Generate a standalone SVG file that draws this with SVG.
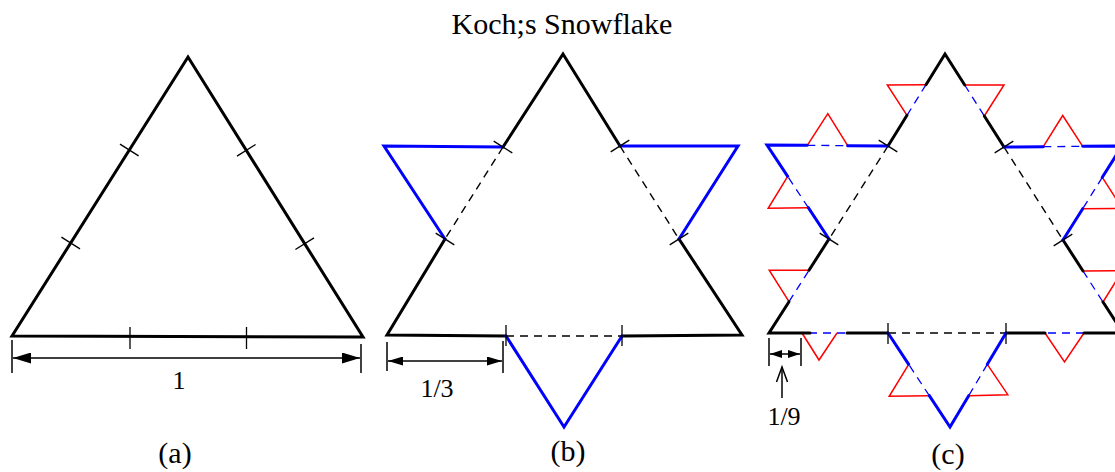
<svg xmlns="http://www.w3.org/2000/svg" width="1115" height="472" viewBox="0 0 1115 472">
<style>
.k{stroke:#000;stroke-width:3;fill:none;stroke-linejoin:miter;stroke-linecap:round}
.b{stroke:#0000ff;stroke-width:3;fill:none;stroke-linejoin:miter;stroke-linecap:round}
.d{stroke:#000;stroke-width:1.4;stroke-dasharray:8 6;fill:none}
.bd{stroke:#0000ff;stroke-width:1.3;stroke-dasharray:8 6;fill:none}
.r{stroke:#ff0000;stroke-width:1.5;fill:none;stroke-linejoin:miter}
.t{stroke:#000;stroke-width:1.3;fill:none}
.dim{stroke:#000;stroke-width:1.5;fill:none}
.lbl{font-family:"Liberation Serif","Times New Roman",serif;fill:#000;text-anchor:middle}
</style>
<defs>
<marker id="ahA" markerUnits="userSpaceOnUse" viewBox="0 0 18 11" refX="18" refY="5.5" markerWidth="18" markerHeight="11" orient="auto-start-reverse"><path d="M0,0 L18,5.5 L0,11 z" fill="#000"/></marker>
<marker id="ahB" markerUnits="userSpaceOnUse" viewBox="0 0 15 9" refX="15" refY="4.5" markerWidth="15" markerHeight="9" orient="auto-start-reverse"><path d="M0,0 L15,4.5 L0,9 z" fill="#000"/></marker>
<marker id="ahC" markerUnits="userSpaceOnUse" viewBox="0 0 12 8" refX="12" refY="4" markerWidth="12" markerHeight="8" orient="auto-start-reverse"><path d="M0,0 L12,4 L0,8 z" fill="#000"/></marker>
</defs>
<rect width="1115" height="472" fill="#fff"/>
<text id="title" class="lbl" x="562" y="34" font-size="30">Koch;s Snowflake</text>

<g id="panel-a">
<path class="k" d="M12,336 L363,337 L188,57 Z"/>
<g id="ticks-a">
<line class="t" x1="120" y1="144.1" x2="138.6" y2="155.9"/>
<line class="t" x1="61.4" y1="237.1" x2="80" y2="248.9"/>
<line class="t" x1="237" y1="156.1" x2="255.6" y2="144.5"/>
<line class="t" x1="295.4" y1="249.5" x2="314" y2="237.9"/>
<line class="t" x1="130" y1="327" x2="130" y2="349"/>
<line class="t" x1="246.5" y1="327" x2="246.5" y2="349"/>
</g>
<g id="dim-a">
<line class="dim" x1="12" y1="340" x2="12" y2="373"/>
<line class="dim" x1="361" y1="344" x2="361" y2="373"/>
<line class="dim" x1="13" y1="358" x2="360" y2="358" marker-start="url(#ahA)" marker-end="url(#ahA)"/>
</g>
<text class="lbl" x="179" y="389" font-size="26">1</text>
<text class="lbl" x="175" y="463" font-size="30">(a)</text>
</g>

<g id="panel-b">
<path class="k" d="M506,336 L387,335 L445,239"/>
<path class="k" d="M503,147 L563,54 L620,146"/>
<path class="k" d="M679,239 L742,335 L622,336"/>
<path class="b" d="M503,147 L384,146 L445,239"/>
<path class="b" d="M620,146 L738,146 L679,239"/>
<path class="b" d="M506,336 L564,427 L622,336"/>
<line class="d" x1="503" y1="147" x2="445" y2="239"/>
<line class="d" x1="620" y1="146" x2="679" y2="239"/>
<line class="d" x1="506" y1="336" x2="622" y2="336"/>
<g id="ticks-b">
<line class="t" x1="493.7" y1="141.1" x2="512.3" y2="152.9"/>
<line class="t" x1="435.7" y1="233.1" x2="454.3" y2="244.9"/>
<line class="t" x1="610.7" y1="151.9" x2="629.3" y2="140.1"/>
<line class="t" x1="669.7" y1="244.9" x2="688.3" y2="233.1"/>
<line class="t" x1="506" y1="325" x2="506" y2="346"/>
<line class="t" x1="622" y1="325" x2="622" y2="346"/>
</g>
<g id="dim-b">
<line class="dim" x1="387" y1="342" x2="387" y2="371"/>
<line class="dim" x1="503" y1="341" x2="503" y2="373"/>
<line class="dim" x1="388" y1="361" x2="502" y2="361" marker-start="url(#ahB)" marker-end="url(#ahB)"/>
</g>
<text class="lbl" x="437" y="397" font-size="26">1/3</text>
<text class="lbl" x="568" y="461" font-size="30">(b)</text>
</g>

<g id="panel-c">
<g id="dashed-c">
<line class="d" x1="888" y1="146" x2="829" y2="239"/>
<line class="d" x1="1004" y1="147" x2="1063" y2="240"/>
<line class="d" x1="888" y1="333" x2="1006" y2="333"/>
</g>
<g id="mid-c">
<line class="bd" x1="789" y1="301.7" x2="809" y2="270.3"/>
<line class="bd" x1="808.3" y1="207.7" x2="787.7" y2="176.3"/>
<line class="bd" x1="807.3" y1="145.3" x2="847.7" y2="145.7"/>
<line class="bd" x1="907" y1="115.3" x2="926" y2="84.7"/>
<line class="bd" x1="964.7" y1="85" x2="984.3" y2="116"/>
<line class="bd" x1="1043.3" y1="146.7" x2="1082.7" y2="146.3"/>
<line class="bd" x1="1102.3" y1="177.3" x2="1082.7" y2="208.7"/>
<line class="bd" x1="1083" y1="271" x2="1103" y2="302"/>
<line class="bd" x1="1084" y1="333" x2="1045" y2="333"/>
<line class="bd" x1="987.3" y1="364.3" x2="968.7" y2="395.7"/>
<line class="bd" x1="929.3" y1="395.7" x2="908.7" y2="364.3"/>
<line class="bd" x1="845" y1="333" x2="810" y2="333"/>
</g>
<g id="red-c">
<path class="r" d="M789,301.7 L769.2,270.2 L809,270.3"/>
<path class="r" d="M808.3,207.7 L768.2,208.3 L787.7,176.3"/>
<path class="r" d="M807.3,145.3 L827.8,113.7 L847.7,145.7"/>
<path class="r" d="M907,115.3 L887.3,85 L926,84.7"/>
<path class="r" d="M964.7,85 L1004,85 L984.3,116"/>
<path class="r" d="M1043.3,146.7 L1062.7,115.5 L1082.7,146.3"/>
<path class="r" d="M1102.3,177.3 L1122.3,208.5 L1082.7,208.7"/>
<path class="r" d="M1083,271 L1122.5,270.7 L1103,302"/>
<path class="r" d="M1084,333 L1064.5,362 L1045,333"/>
<path class="r" d="M987.3,364.3 L1007.8,394.7 L968.7,395.7"/>
<path class="r" d="M929.3,395.7 L889.2,396.3 L908.7,364.3"/>
<path class="r" d="M837,333 L819,360 L802,333"/>
</g>
<g id="black-c">
<path class="k" d="M810,333 L769,333 L789,301.7"/>
<path class="k" d="M809,270.3 L829,239"/>
<path class="k" d="M888,146 L907,115.3"/>
<path class="k" d="M926,84.7 L945,54 L964.7,85"/>
<path class="k" d="M984.3,116 L1004,147"/>
<path class="k" d="M1063,240 L1083,271"/>
<path class="k" d="M1103,302 L1123,333 L1084,333"/>
<path class="k" d="M1045,333 L1006,333"/>
<path class="k" d="M888,333 L847,333"/>
</g>
<g id="blue-c">
<path class="b" d="M829,239 L808.3,207.7"/>
<path class="b" d="M787.7,176.3 L767,145 L807.3,145.3"/>
<path class="b" d="M847.7,145.7 L888,146"/>
<path class="b" d="M1004,147 L1043.3,146.7"/>
<path class="b" d="M1082.7,146.3 L1122,146 L1102.3,177.3"/>
<path class="b" d="M1082.7,208.7 L1063,240"/>
<path class="b" d="M1006,333 L987.3,364.3"/>
<path class="b" d="M968.7,395.7 L950,427 L929.3,395.7"/>
<path class="b" d="M908.7,364.3 L888,333"/>
</g>
<g id="ticks-c">
<line class="t" x1="878.7" y1="140.1" x2="897.3" y2="151.9"/>
<line class="t" x1="819.7" y1="233.1" x2="838.3" y2="244.9"/>
<line class="t" x1="994.7" y1="152.9" x2="1013.3" y2="141.1"/>
<line class="t" x1="1053.7" y1="245.9" x2="1072.3" y2="234.1"/>
<line class="t" x1="888" y1="323" x2="888" y2="344"/>
<line class="t" x1="1006" y1="323" x2="1006" y2="344"/>
</g>
<g id="dim-c">
<line class="dim" x1="769" y1="338" x2="769" y2="366"/>
<line class="dim" x1="801" y1="338" x2="801" y2="366"/>
<line class="dim" x1="770" y1="354" x2="800" y2="354" marker-start="url(#ahC)" marker-end="url(#ahC)"/>
<line class="dim" x1="782" y1="398" x2="782" y2="367"/>
<path class="dim" d="M776.5,382 L782,367 L787.5,382"/>
</g>
<text class="lbl" x="784" y="425" font-size="26">1/9</text>
<text class="lbl" x="948" y="464" font-size="30">(c)</text>
</g>
</svg>
